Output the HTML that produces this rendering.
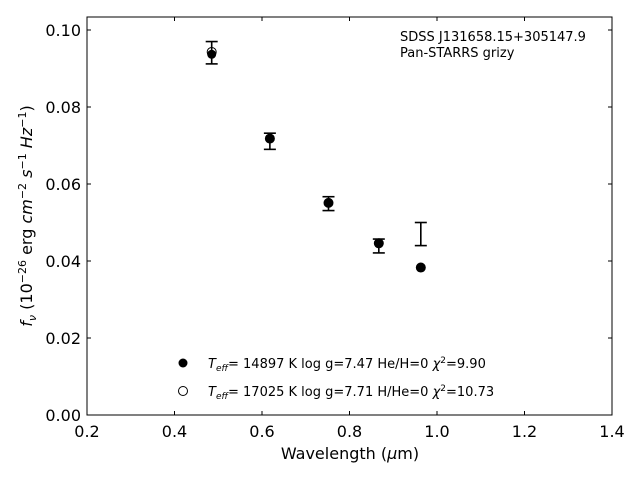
<!DOCTYPE html>
<html><head><meta charset="utf-8"><style>
body{margin:0;background:#fff;}
svg text{font-family:"DejaVu Sans","Liberation Sans",sans-serif;fill:#000;}
</style></head><body>
<svg id="chart" width="640" height="480" xmlns="http://www.w3.org/2000/svg">
<rect x="87" y="17" width="525" height="398" fill="none" stroke="#000" stroke-width="1"/>
<g id="ticks"></g>
<g id="marks"></g>
<text x="350" y="459" font-size="16" text-anchor="middle">Wavelength (<tspan font-style="italic">μ</tspan>m)</text>
<text transform="translate(32,216) rotate(-90)" font-size="16" text-anchor="middle"><tspan font-style="italic">f</tspan><tspan font-style="italic" font-size="11" dy="4">ν</tspan><tspan dy="-4"> (10</tspan><tspan font-size="11" dy="-6">−26</tspan><tspan dy="6"> erg </tspan><tspan font-style="italic">cm</tspan><tspan font-size="11" dy="-6">−2</tspan><tspan dy="6"> </tspan><tspan font-style="italic">s</tspan><tspan font-size="11" dy="-6">−1</tspan><tspan dy="6"> </tspan><tspan font-style="italic">Hz</tspan><tspan font-size="11" dy="-6">−1</tspan><tspan dy="6">)</tspan></text>
<text x="400" y="41" font-size="13">SDSS J131658.15+305147.9</text>
<text x="400" y="57" font-size="13">Pan-STARRS grizy</text>
<g>
<circle cx="183" cy="363" r="4.5" fill="#000"/>
<text x="208" y="368" font-size="13"><tspan font-style="italic">T</tspan><tspan font-style="italic" font-size="9" dy="3">eff</tspan><tspan dy="-3">= 14897 K  log g=7.47  He/H=0  </tspan><tspan font-style="italic">χ</tspan><tspan font-size="9" dy="-5">2</tspan><tspan dy="5">=9.90</tspan></text>
<circle cx="183" cy="391" r="4.5" fill="#fff" stroke="#000" stroke-width="1"/>
<text x="208" y="396" font-size="13"><tspan font-style="italic">T</tspan><tspan font-style="italic" font-size="9" dy="3">eff</tspan><tspan dy="-3">= 17025 K  log g=7.71  H/He=0  </tspan><tspan font-style="italic">χ</tspan><tspan font-size="9" dy="-5">2</tspan><tspan dy="5">=10.73</tspan></text>
</g>
</svg>
<script>
const wavelengths=[0.485,0.618,0.752,0.867,0.963];
const obsFlux=[0.0941,0.0711,0.0549,0.0439,0.0470];
const obsErr=[0.0029,0.0021,0.0018,0.0018,0.0030];
const modelHe=[0.0937,0.0718,0.0551,0.0446,0.0383];
const modelH=[0.0943,0.0718,0.0551,0.0446,0.0383];
const xTicks=[0.2,0.4,0.6,0.8,1.0,1.2,1.4];
const yTicks=[0.00,0.02,0.04,0.06,0.08,0.10];
const X0=87,X1=612,Y0=415,Y1=17,xmin=0.2,xmax=1.4,ymin=0,ymax=0.10338;
const sx=v=>X0+(v-xmin)/(xmax-xmin)*(X1-X0);
const sy=v=>Y0-(v-ymin)/(ymax-ymin)*(Y0-Y1);
const NS="http://www.w3.org/2000/svg";
function mk(tag,attrs,parent){const e=document.createElementNS(NS,tag);for(const k in attrs)e.setAttribute(k,attrs[k]);parent.appendChild(e);return e;}
const tg=document.getElementById('ticks');
xTicks.forEach(t=>{const x=sx(t);
 const l=mk('line',{x1:x,x2:x,y1:Y0,y2:Y0-4,stroke:'#000'},tg);
 
 
 const l2=mk('line',{x1:x,x2:x,y1:Y1,y2:Y1+4,stroke:'#000'},tg);
 
 
 const tx=mk('text',{x:x,y:Y0+22,'font-size':16,'text-anchor':'middle'},tg);tx.textContent=t.toFixed(1);
 
 
});
yTicks.forEach(t=>{const y=sy(t);
 const l=mk('line',{x1:X0,x2:X0+4,y1:y,y2:y,stroke:'#000'},tg);
 
 
 const l2=mk('line',{x1:X1,x2:X1-4,y1:y,y2:y,stroke:'#000'},tg);
 
 
 const tx=mk('text',{x:X0-6,y:y+6,'font-size':16,'text-anchor':'end'},tg);tx.textContent=t.toFixed(2);
 
 
});
const mg=document.getElementById('marks');
wavelengths.forEach((w,i)=>{const x=sx(w);
 const o=mk('circle',{cx:x,cy:sy(modelH[i]),r:4.5,fill:'#fff',stroke:'#000','stroke-width':1},mg);
 
 
 const f=mk('circle',{cx:x,cy:sy(modelHe[i]),r:4.5,fill:'#000'},mg);
 
 
 const yt=sy(obsFlux[i]+obsErr[i]),yb=sy(obsFlux[i]-obsErr[i]);
 const g=mk('g',{stroke:'#000','stroke-width':1.6},mg);
 
 
 mk('line',{x1:x,x2:x,y1:yt,y2:yb},g);
 mk('line',{x1:x-6,x2:x+6,y1:yt,y2:yt},g);
 mk('line',{x1:x-6,x2:x+6,y1:yb,y2:yb},g);
});
</script>
</body></html>
